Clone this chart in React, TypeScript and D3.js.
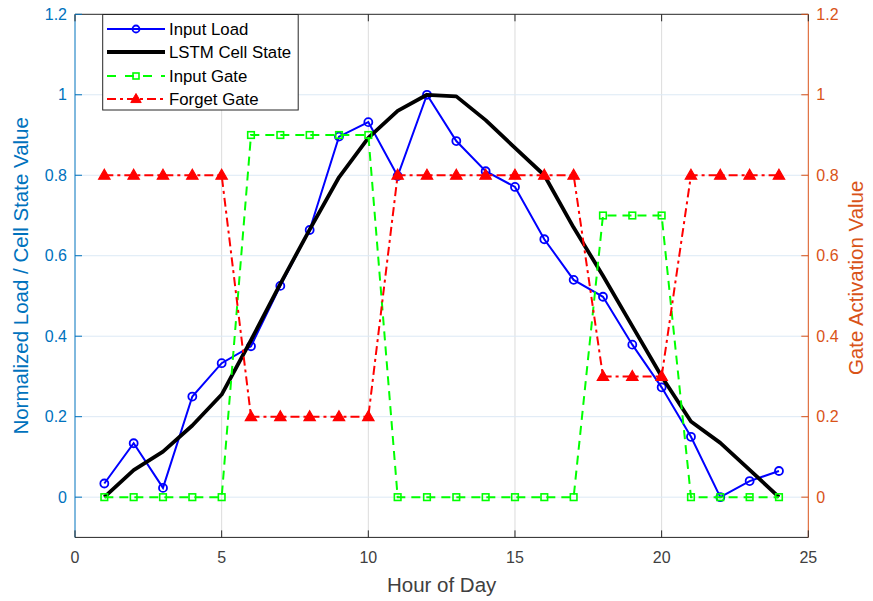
import React from "react";
import * as d3 from "d3";

const hours = [1, 2, 3, 4, 5, 6, 7, 8, 9, 10, 11, 12, 13, 14, 15, 16, 17, 18, 19, 20, 21, 22, 23, 24];
const inputLoad = [0.034, 0.134, 0.023, 0.25, 0.333, 0.375, 0.525, 0.664, 0.896, 0.932, 0.798, 1.0, 0.885, 0.81, 0.771, 0.641, 0.54, 0.498, 0.379, 0.273, 0.15, 0.0, 0.04, 0.065];
const cellState = [0.0, 0.067, 0.113, 0.178, 0.255, 0.39, 0.53, 0.665, 0.795, 0.893, 0.96, 1.0, 0.996, 0.937, 0.868, 0.8, 0.67, 0.55, 0.425, 0.3, 0.188, 0.135, 0.068, 0.0];
const inputGate = [0, 0, 0, 0, 0, 0.9, 0.9, 0.9, 0.9, 0.9, 0, 0, 0, 0, 0, 0, 0, 0.7, 0.7, 0.7, 0, 0, 0, 0];
const forgetGate = [0.8, 0.8, 0.8, 0.8, 0.8, 0.2, 0.2, 0.2, 0.2, 0.2, 0.8, 0.8, 0.8, 0.8, 0.8, 0.8, 0.8, 0.3, 0.3, 0.3, 0.8, 0.8, 0.8, 0.8];
const xTicks = [0, 5, 10, 15, 20, 25];
const yTicks = [0, 0.2, 0.4, 0.6, 0.8, 1, 1.2];
const legendLabels = ["Input Load", "LSTM Cell State", "Input Gate", "Forget Gate"];

const BLUE_AX = "#0072BD";
const ORANGE_AX = "#D95319";
const FONT = "'Liberation Sans', Arial, Helvetica, sans-serif";

export default function App() {
  const W = 873, H = 601;
  const L = 75, R = 808.3, T = 14.3, B = 537.4;
  const x = d3.scaleLinear().domain([0, 25]).range([L, R]);
  const yL = d3.scaleLinear().domain([-0.1, 1.2]).range([B, T]);
  const yR = d3.scaleLinear().domain([-0.1, 1.2]).range([B, T]);

  const lineL = d3.line<[number, number]>().x(d => x(d[0])).y(d => yL(d[1]));
  const lineR = d3.line<[number, number]>().x(d => x(d[0])).y(d => yR(d[1]));

  const pts = (arr: number[]) => hours.map((h, i) => [h, arr[i]] as [number, number]);

  const tri = (cx: number, cy: number, s: number) =>
    `M${cx},${cy - s} L${cx + s * 0.95},${cy + s * 0.65} L${cx - s * 0.95},${cy + s * 0.65} Z`;

  const fmt = (v: number) => (Math.abs(v - Math.round(v)) < 1e-9 ? String(Math.round(v)) : String(+v.toFixed(1)));

  const legX = 102.7, legY = 14.5, legW = 195.5, legH = 95.5;
  const rowY = [29, 52, 76, 99];

  return (
    <div style={{ position: "absolute", left: 0, top: 0 }}>
      <svg width={W} height={H} style={{ display: "block", background: "#fff" }} fontFamily={FONT}>
        {/* grid */}
        {xTicks.filter(t => t > 0 && t < 25).map(t => (
          <line key={"gx" + t} x1={x(t)} x2={x(t)} y1={T} y2={B} stroke="#dcdcdc" strokeWidth={1} />
        ))}
        {yTicks.filter(t => t < 1.2).map(t => (
          <line key={"gy" + t} x1={L} x2={R} y1={yL(t)} y2={yL(t)} stroke="#dce9f5" strokeWidth={1} />
        ))}

        {/* series */}
        <path d={lineL(pts(inputLoad)) || ""} fill="none" stroke="#0000ff" strokeWidth={2} />
        {pts(inputLoad).map((p, i) => (
          <circle key={"c" + i} cx={x(p[0])} cy={yL(p[1])} r={4} fill="none" stroke="#0000ff" strokeWidth={1.8} />
        ))}
        <path d={lineL(pts(cellState)) || ""} fill="none" stroke="#000" strokeWidth={3.8} strokeLinejoin="round" />
        <path d={lineR(pts(inputGate)) || ""} fill="none" stroke="#00ff00" strokeWidth={2} strokeDasharray="9,6" />
        {pts(inputGate).map((p, i) => (
          <rect key={"s" + i} x={x(p[0]) - 3.3} y={yR(p[1]) - 3.3} width={6.6} height={6.6} fill="none" stroke="#00ff00" strokeWidth={1.6} />
        ))}
        <path d={lineR(pts(forgetGate)) || ""} fill="none" stroke="#ff0000" strokeWidth={2} strokeDasharray="9,4,3,4" />
        {pts(forgetGate).map((p, i) => (
          <path key={"t" + i} d={tri(x(p[0]), yR(p[1]), 6)} fill="#ff0000" stroke="#ff0000" strokeWidth={1.2} />
        ))}

        {/* axes */}
        <line x1={L} x2={R} y1={T} y2={T} stroke="#262626" strokeWidth={1} />
        <line x1={L} x2={R} y1={B} y2={B} stroke="#262626" strokeWidth={1} />
        <line x1={L} x2={L} y1={T} y2={B} stroke={BLUE_AX} strokeWidth={1} />
        <line x1={R} x2={R} y1={T} y2={B} stroke={ORANGE_AX} strokeWidth={1} />

        {xTicks.map(t => (
          <g key={"xt" + t}>
            <line x1={x(t)} x2={x(t)} y1={B} y2={B - 7} stroke="#262626" />
            <line x1={x(t)} x2={x(t)} y1={T} y2={T + 7} stroke="#262626" />
            <text x={x(t)} y={B + 26} textAnchor="middle" fontSize={16} fill="#404040">{t}</text>
          </g>
        ))}
        {yTicks.map(t => (
          <g key={"yl" + t}>
            <line x1={L} x2={L + 7} y1={yL(t)} y2={yL(t)} stroke={BLUE_AX} />
            <text x={L - 8} y={yL(t) + 5.5} textAnchor="end" fontSize={16} fill={BLUE_AX}>{fmt(t)}</text>
          </g>
        ))}
        {yTicks.map(t => (
          <g key={"yr" + t}>
            <line x1={R} x2={R - 7} y1={yR(t)} y2={yR(t)} stroke={ORANGE_AX} />
            <text x={R + 8} y={yR(t) + 5.5} textAnchor="start" fontSize={16} fill={ORANGE_AX}>{fmt(t)}</text>
          </g>
        ))}

        {/* axis labels */}
        <text x={(L + R) / 2} y={592} textAnchor="middle" fontSize={20.5} fill="#404040">Hour of Day</text>
        <text transform={`translate(28,${(T + B) / 2}) rotate(-90)`} textAnchor="middle" fontSize={20.5} fill={BLUE_AX}>
          Normalized Load / Cell State Value
        </text>
        <text transform={`translate(863,${(T + B) / 2 + 2}) rotate(-90)`} textAnchor="middle" fontSize={20.5} fill={ORANGE_AX}>
          Gate Activation Value
        </text>

        {/* legend */}
        <rect x={legX} y={legY} width={legW} height={legH} fill="#fff" stroke="#262626" strokeWidth={1} />
        {legendLabels.map((lab, i) => {
          const yy = rowY[i];
          const x1 = 107, x2 = 165, xm = 136;
          return (
            <g key={"lg" + i}>
              {i === 0 && (
                <>
                  <line x1={x1} x2={x2} y1={yy} y2={yy} stroke="#0000ff" strokeWidth={2} />
                  <circle cx={xm} cy={yy} r={3.5} fill="none" stroke="#0000ff" strokeWidth={1.8} />
                </>
              )}
              {i === 1 && <line x1={x1} x2={x2} y1={yy} y2={yy} stroke="#000" strokeWidth={3.8} />}
              {i === 2 && (
                <>
                  <line x1={x1} x2={x2} y1={yy} y2={yy} stroke="#00ff00" strokeWidth={2} strokeDasharray="9,9" />
                  <rect x={xm - 3} y={yy - 3} width={6} height={6} fill="none" stroke="#00ff00" strokeWidth={1.6} />
                </>
              )}
              {i === 3 && (
                <>
                  <line x1={x1} x2={x2} y1={yy} y2={yy} stroke="#ff0000" strokeWidth={2} strokeDasharray="9,4,3,4" />
                  <path d={tri(xm, yy, 5.5)} fill="#ff0000" stroke="#ff0000" />
                </>
              )}
              <text x={169} y={yy + 6} fontSize={16.8} fill="#000">{lab}</text>
            </g>
          );
        })}
      </svg>
    </div>
  );
}
